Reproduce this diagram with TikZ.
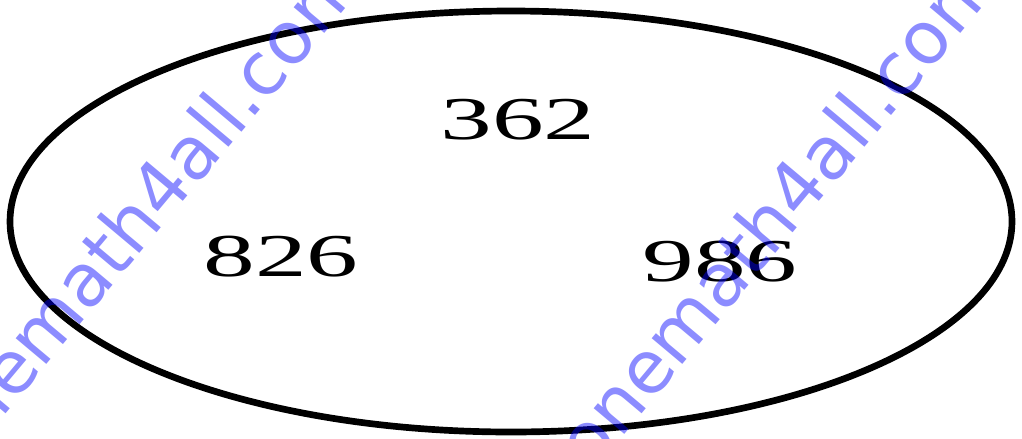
\documentclass[tikz,border=0pt]{standalone}
\usepackage{fontspec}
\setmainfont{Liberation Serif}
\newfontfamily\wmfont{DejaVu Sans}

\tikzset{
    cislo/.style={font=\fontsize{17.3}{20}\selectfont, xscale=1.7, inner sep=0pt},
    znak/.style={font=\wmfont\fontsize{20.8}{24}\selectfont, text=blue, text opacity=0.45,
                 rotate=50, anchor=base west, inner sep=0pt}
}

\begin{document}
\begin{tikzpicture}[scale=1]
    \useasboundingbox (0,0) rectangle (10.22,4.38);
    \draw[line width=1.9pt] (5.11,2.165) ellipse (5.01 and 2.105);

    \node[cislo] (a) at (5.18,3.18) {362};
    \node[cislo] (b) at (2.81,1.81) {826};
    \node[cislo] (c) at (7.20,1.76) {986};

    \coordinate (W1) at (-0.45,-0.36);
    \coordinate (W2) at (5.91,-0.36);
    \node[znak] (w1) at (W1) {onemath4all.com};
    \node[znak] (w2) at (W2) {onemath4all.com};
\end{tikzpicture}
\end{document}
